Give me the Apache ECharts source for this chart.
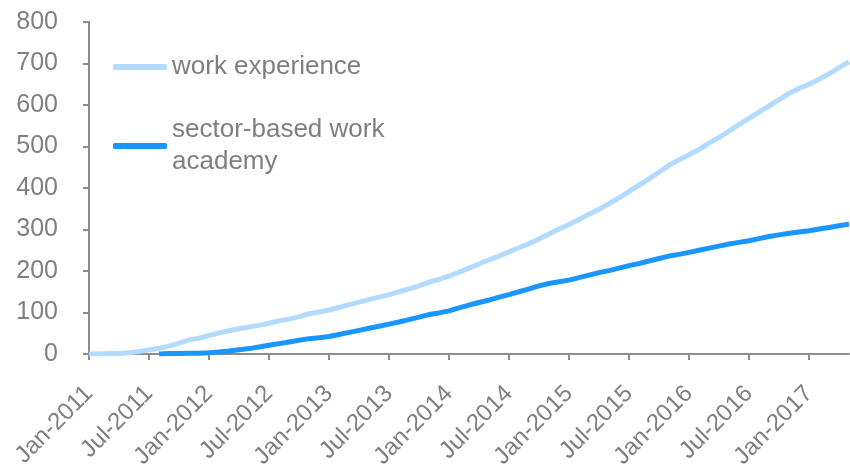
<!DOCTYPE html>
<html>
<head>
    <meta charset="utf-8">
    <title>work experience / sector-based work academy</title>
    <script src="https://cdn.jsdelivr.net/npm/echarts@6/dist/echarts.min.js"></script>
    <style>
        html, body { margin: 0; padding: 0; background: #fff; }
        #chart1 { width: 850px; height: 464px; }
    </style>
</head>
<body>
<div id="chart1"></div>
<script>
    // monthly labels, Jan-2011 .. May-2017
    var months = [
        'Jan-2011','Feb-2011','Mar-2011','Apr-2011','May-2011','Jun-2011','Jul-2011','Aug-2011','Sep-2011','Oct-2011','Nov-2011','Dec-2011',
        'Jan-2012','Feb-2012','Mar-2012','Apr-2012','May-2012','Jun-2012','Jul-2012','Aug-2012','Sep-2012','Oct-2012','Nov-2012','Dec-2012',
        'Jan-2013','Feb-2013','Mar-2013','Apr-2013','May-2013','Jun-2013','Jul-2013','Aug-2013','Sep-2013','Oct-2013','Nov-2013','Dec-2013',
        'Jan-2014','Feb-2014','Mar-2014','Apr-2014','May-2014','Jun-2014','Jul-2014','Aug-2014','Sep-2014','Oct-2014','Nov-2014','Dec-2014',
        'Jan-2015','Feb-2015','Mar-2015','Apr-2015','May-2015','Jun-2015','Jul-2015','Aug-2015','Sep-2015','Oct-2015','Nov-2015','Dec-2015',
        'Jan-2016','Feb-2016','Mar-2016','Apr-2016','May-2016','Jun-2016','Jul-2016','Aug-2016','Sep-2016','Oct-2016','Nov-2016','Dec-2016',
        'Jan-2017','Feb-2017','Mar-2017','Apr-2017','May-2017'
    ];

    var workExperience = [
        0, 0, 1, 1, 3, 6, 10, 14, 19, 26, 34, 38,
        45, 51, 56, 61, 65, 69, 74, 80, 84, 90, 97, 101,
        106, 112, 119, 125, 131, 137, 143, 150, 157, 164, 173, 180,
        188, 197, 207, 217, 227, 236, 246, 256, 266, 277, 289, 301,
        312, 324, 337, 349, 362, 376, 392, 407, 422, 438, 455, 468,
        480, 493, 508, 522, 537, 553, 568, 583, 598, 613, 628, 640,
        650, 662, 675, 690, 704
    ];

    var sectorAcademy = [
        null, null, null, null, null, null, null, 0, 1, 1, 2, 2,
        3, 5, 7, 10, 13, 17, 21, 25, 29, 33, 37, 39,
        42, 47, 52, 57, 62, 67, 72, 77, 83, 89, 95, 99,
        104, 111, 118, 124, 130, 137, 143, 150, 157, 164, 170, 174,
        178, 184, 190, 196, 201, 207, 213, 218, 224, 230, 236, 240,
        245, 250, 255, 260, 265, 269, 273, 278, 283, 287, 291, 294,
        297, 301, 305, 309, 313
    ];

    var yTicks = [0, 100, 200, 300, 400, 500, 600, 700, 800];

    var grey = '#7f7f7f';
    var axisGrey = '#8c8c8c';
    var lightBlue = '#b3dbff';
    var darkBlue = '#1996ff';

    var myChart1 = echarts.init(document.getElementById('chart1'));
    myChart1.setOption({
        animation: false,
        textStyle: { fontFamily: 'Liberation Sans, Arial, sans-serif' },
        grid: { left: 89, right: 1, top: 22, bottom: 110, containLabel: false, outerBoundsMode: 'none' },
        legend: [
            {
                data: ['work experience'],
                left: 113, top: 50, padding: 0,
                itemWidth: 54, itemHeight: 6,
                icon: 'roundRect',
                textStyle: { color: grey, fontSize: 26, lineHeight: 34 }
            },
            {
                data: ['sector-based work academy'],
                left: 113, top: 98, padding: 0,
                itemWidth: 54, itemHeight: 6,
                icon: 'roundRect',
                formatter: function () { return 'sector-based work\nacademy'; },
                textStyle: { color: grey, fontSize: 26, lineHeight: 32, padding: [32, 0, 0, 0] }
            }
        ],
        xAxis: {
            type: 'category',
            data: months,
            boundaryGap: false,
            axisLine: { lineStyle: { color: axisGrey, width: 2 } },
            axisTick: { interval: 5, length: 6, lineStyle: { color: axisGrey, width: 2 } },
            axisLabel: { interval: 5, rotate: 45, color: grey, fontSize: 24, margin: 36 },
            splitLine: { show: false }
        },
        yAxis: {
            type: 'value',
            min: yTicks[0],
            max: yTicks[yTicks.length - 1],
            interval: 100,
            axisLine: { show: true, lineStyle: { color: axisGrey, width: 2 } },
            axisTick: { show: true, length: 6, lineStyle: { color: axisGrey, width: 2 } },
            axisLabel: { color: grey, fontSize: 25, margin: 31 },
            splitLine: { show: false }
        },
        series: [
            {
                name: 'work experience',
                type: 'line',
                data: workExperience,
                showSymbol: false,
                symbol: 'none',
                color: lightBlue,
                lineStyle: { color: lightBlue, width: 5 }
            },
            {
                name: 'sector-based work academy',
                type: 'line',
                data: sectorAcademy,
                showSymbol: false,
                symbol: 'none',
                color: darkBlue,
                lineStyle: { color: darkBlue, width: 5 }
            }
        ]
    });
</script>
</body>
</html>
